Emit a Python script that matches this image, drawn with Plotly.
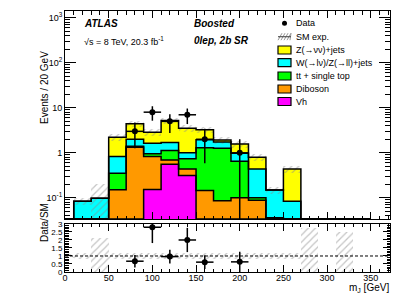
import numpy as np
import plotly.graph_objects as go
from plotly.subplots import make_subplots

# ---------------- data ----------------
bin_edges = [-10, 10, 30, 50, 70, 90, 110, 130, 150, 170, 190, 210, 230, 250, 270, 290, 310, 330, 350]
vh      = [0, 0, 0, 0, 0, 0.153, 0.56, 0.315, 0, 0, 0, 0, 0, 0, 0, 0, 0, 0]
diboson = [0, 0, 0, 0.152, 1.33, 0.677, 0.13, 0.125, 0.146, 0.086, 0.10, 0.088, 0.02, 0, 0, 0, 0, 0]
ttbar   = [0, 0, 0, 0.202, 0.07, 0.12, 0.43, 0.30, 1.154, 1.18, 0.55, 0.012, 0.016, 0, 0, 0, 0, 0]
wz_ll   = [0, 0.084, 0.098, 0.476, 0.60, 0.68, 0.57, 0.26, 0.65, 0.48, 0.33, 0.34, 0.114, 0.084, 0, 0, 0, 0]
z_vv    = [0, 0, 0, 1.38, 2.45, 1.23, 3.51, 2.50, 1.30, 0.17, 0.60, 0.36, 0, 0.356, 0, 0, 0, 0]
data    = [0, 0, 0, 0, 3, 8, 5, 7, 2, 0, 1, 0, 0, 0, 0, 0, 0, 0]
syst_rel = [0.15, 0.17, 1.1, 0.17, 0.17, 0.17, 0.17, 0.17, 0.17, 0.17, 0.17, 0.17, 0.17, 0.17, 1.74, 0, 1.53, 0]

comp_names = ["Vh", "Diboson", "tt + single top", "W(→lν)/Z(→ll)+jets", "Z(→νν)+jets"]
comp_vals = [vh, diboson, ttbar, wz_ll, z_vv]
comp_cols = ["#FF00FF", "#FF9900", "#00FF00", "#00FFFF", "#FFFF00"]

# ---------------- derived ----------------
YLOG_MIN, YLOG_MAX = -1.47, 3.15
edges = np.array(bin_edges, float)
centers = 0.5 * (edges[:-1] + edges[1:])
widths = edges[1:] - edges[:-1]
cums = np.cumsum(np.array(comp_vals, float), axis=0)  # bottom -> top
total = cums[-1]
dat = np.array(data, float)
unc = np.array(syst_rel, float)
FLOOR = 10 ** YLOG_MIN

fig = make_subplots(rows=2, cols=1, shared_xaxes=True, vertical_spacing=0.0)
fig.update_layout(
    yaxis=dict(domain=[0.203, 1.0]),
    yaxis2=dict(domain=[0.0, 0.184]),
)

# stacked fills (draw top cumulative first)
for i in range(len(comp_vals) - 1, -1, -1):
    c = cums[i]
    fig.add_trace(go.Bar(x=centers, y=np.where(c > 0, c, np.nan), width=widths,
                         marker=dict(color=comp_cols[i], line=dict(width=0)),
                         showlegend=False, hoverinfo="skip"), row=1, col=1)

HATCH = dict(shape="/", fgcolor="#8c8c8c", bgcolor="rgba(0,0,0,0)", size=5, solidity=0.25)

# uncertainty hatch main
lo = np.maximum(total * (1 - unc), FLOOR)
hi = total * (1 + unc)
mask = total > 0
fig.add_trace(go.Bar(x=centers[mask], y=(hi - lo)[mask], base=lo[mask], width=widths[mask],
                     marker=dict(color="rgba(0,0,0,0)", line=dict(width=0), pattern=HATCH),
                     showlegend=False, hoverinfo="skip"), row=1, col=1)

# step outlines
for i in range(len(comp_vals)):
    c = np.maximum(cums[i], FLOOR)
    ys = list(c) + [c[-1]]
    fig.add_trace(go.Scatter(x=edges, y=ys, mode="lines", line=dict(color="black", width=1.5, shape="hv"),
                             showlegend=False, hoverinfo="skip"), row=1, col=1)

# data points
dm = dat > 0
fig.add_trace(go.Scatter(x=centers[dm], y=dat[dm], mode="markers",
                         marker=dict(color="black", size=6),
                         error_y=dict(type="data", array=np.sqrt(dat[dm]), color="black", thickness=1.5, width=0),
                         error_x=dict(type="data", array=widths[dm] / 2, color="black", thickness=1.5, width=0),
                         showlegend=False, hoverinfo="skip"), row=1, col=1)

# ratio band
bm = unc > 0
fig.add_trace(go.Bar(x=centers[bm], y=2 * unc[bm], base=1 - unc[bm], width=widths[bm],
                     marker=dict(color="rgba(0,0,0,0)", line=dict(width=0), pattern=HATCH),
                     showlegend=False, hoverinfo="skip"), row=2, col=1)

rm = (dat > 0) & (total > 0)
ratio = dat[rm] / total[rm]
rerr = np.sqrt(dat[rm]) / total[rm]
fig.add_trace(go.Scatter(x=centers[rm], y=ratio, mode="markers",
                         marker=dict(color="black", size=6),
                         error_y=dict(type="data", array=rerr, color="black", thickness=1.5, width=0),
                         error_x=dict(type="data", array=widths[rm] / 2, color="black", thickness=1.5, width=0),
                         showlegend=False, hoverinfo="skip"), row=2, col=1)

XMAX = 372
fig.add_shape(type="line", x0=0, x1=XMAX, y0=1, y1=1, xref="x2", yref="y2",
              line=dict(color="black", width=1, dash="3px,2px"), layer="above")

FONT = "Liberation Sans, Arial, sans-serif"
axis_common = dict(showline=True, linecolor="black", linewidth=1, mirror="ticks", ticks="inside",
                   showgrid=False, zeroline=False, tickcolor="black", automargin=False,
                   tickfont=dict(family=FONT, size=9, color="black"))

fig.update_xaxes(**axis_common, range=[0, XMAX], dtick=50, ticklen=7,
                 minor=dict(dtick=10, ticks="inside", ticklen=3.5, tickcolor="black"))
fig.update_xaxes(showticklabels=False, row=1, col=1)
fig.update_xaxes(tick0=0, ticklabelstandoff=-3, row=2, col=1)

fig.update_yaxes(**axis_common, row=1, col=1)
fig.update_yaxes(type="log", range=[YLOG_MIN, YLOG_MAX], tickvals=[0.1, 1, 10, 100, 1000],
                 ticktext=["10<sup>-1</sup>", "1", "10", "10<sup>2</sup>", "10<sup>3</sup>"],
                 ticklen=11, minor=dict(ticks="inside", ticklen=5, tickcolor="black",
                                        tickvals=[m * 10.0 ** e for e in range(-2, 4) for m in range(2, 10)]),
                 row=1, col=1)
fig.update_yaxes(**axis_common, row=2, col=1)
fig.update_yaxes(range=[0, 3], tickvals=[0, 0.5, 1, 1.5, 2, 2.5, 3],
                 ticktext=["0", "0.5", "1", "1.5", "2", "2.5", "3"], ticklen=7,
                 tickfont=dict(family=FONT, size=8, color="black"),
                 minor=dict(dtick=0.1, ticks="inside", ticklen=3.5, tickcolor="black"), row=2, col=1)

# page body has an 8px margin: shift the figure up/left by 8px
fig.update_layout(width=411, height=295, margin=dict(l=57, r=29, t=3, b=31, autoexpand=False),
                  paper_bgcolor="white", plot_bgcolor="white", barmode="overlay", bargap=0,
                  showlegend=False, font=dict(family=FONT, color="black"))


def px(x):
    return (x - 65) / 325.0


def py(y):
    return (272 - y) / 261.0


def text(x, y, s, size=9, anchor="left", **kw):
    fig.add_annotation(x=px(x), y=py(y), xref="paper", yref="paper", text=s, showarrow=False,
                       xanchor=anchor, yanchor="middle", font=dict(family=FONT, size=size, color="black"), **kw)


text(82, 23, "<b><i>ATLAS</i></b>", size=10)
text(192, 23, "<b><i>Boosted</i></b>", size=10)
text(82, 41, "√s = 8 TeV, 20.3 fb<sup>-1</sup>", size=9)
text(192, 41, "<b><i>0lep, 2b SR</i></b>", size=10)

# axis titles
fig.add_annotation(x=px(37), y=py(49), xref="paper", yref="paper", text="Events / 20 GeV", textangle=-90,
                   showarrow=False, font=dict(family=FONT, size=10, color="black"))
fig.add_annotation(x=px(37), y=py(244), xref="paper", yref="paper", text="Data/SM", textangle=-90,
                   showarrow=False, font=dict(family=FONT, size=10, color="black"))
text(391, 287.5, "m<sub>J</sub> [GeV]", size=10, anchor="right")

# legend (manual, ROOT style)
LX0, LX1, TX = 278, 291, 294
rows = [23.3, 36.7, 50, 62.7, 76, 89, 101.5]
fig.add_shape(type="circle", xref="paper", yref="paper", x0=px(282), x1=px(287), y0=py(rows[0] + 2.5),
              y1=py(rows[0] - 2.5), fillcolor="black", line=dict(color="black", width=0))
text(TX, rows[0], "Data")
for k in range(5):
    xa = LX0 + 3 * k
    fig.add_shape(type="line", xref="paper", yref="paper", x0=px(xa), x1=px(min(xa + 4, LX1)),
                  y0=py(rows[1] + 3.5), y1=py(rows[1] - 3.5), line=dict(color="#999999", width=1))
fig.add_shape(type="line", xref="paper", yref="paper", x0=px(LX0), x1=px(LX1), y0=py(rows[1]), y1=py(rows[1]),
              line=dict(color="#555555", width=1.2))
text(TX, rows[1], "SM exp.")
leg_order = [4, 3, 2, 1, 0]
for j, i in enumerate(leg_order):
    yc = rows[2 + j]
    fig.add_shape(type="rect", xref="paper", yref="paper", x0=px(LX0), x1=px(LX1), y0=py(yc + 4), y1=py(yc - 4),
                  fillcolor=comp_cols[i], line=dict(color="black", width=1.2))
    text(TX, yc, comp_names[i])

fig.write_html("out.html")
